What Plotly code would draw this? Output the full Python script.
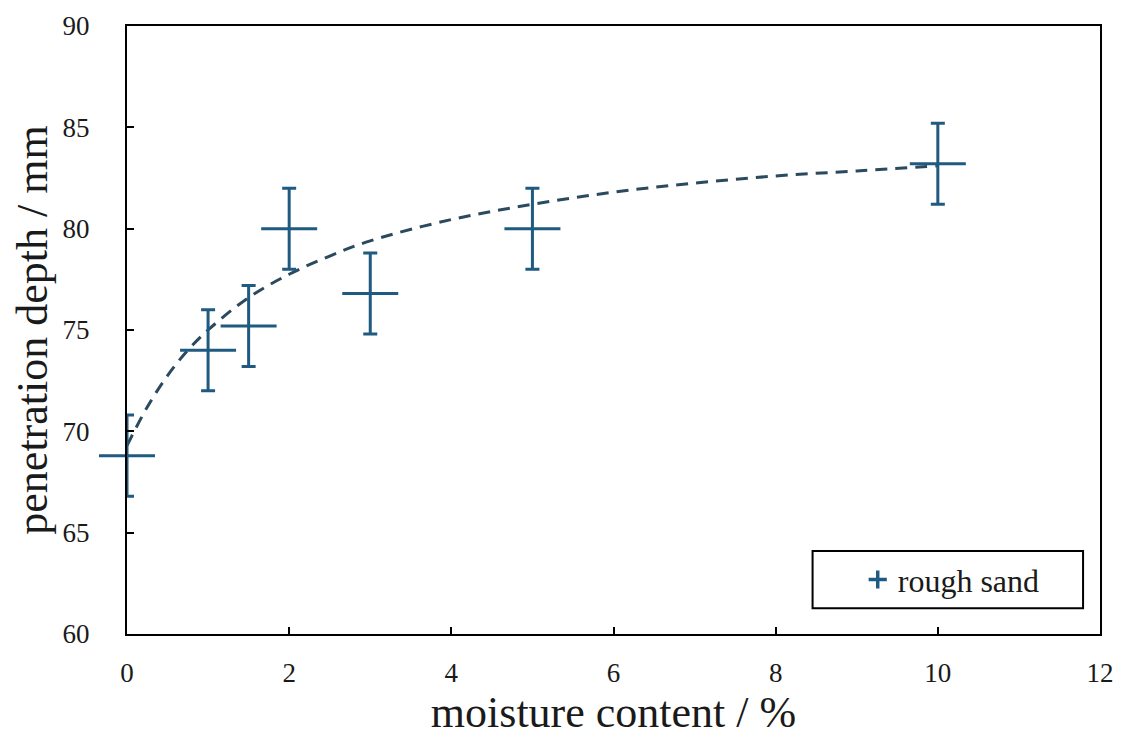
import plotly.graph_objects as go

# measured data
moisture = [0, 1, 1.5, 2, 3, 5, 10]
depth = [68.8, 74.0, 75.2, 80.0, 76.8, 80.0, 83.2]
depth_err = [2.0, 2.0, 2.0, 2.0, 2.0, 2.0, 2.0]

# dashed trend curve
trend_x = [0, 0.25, 0.5, 0.75, 1, 1.5, 2, 2.5, 3, 4, 5, 6, 7, 8, 9, 10]
trend_y = [69.3, 71.2, 72.75, 74.0, 75.0, 76.6, 77.75, 78.65, 79.4, 80.45, 81.2, 81.8, 82.25, 82.6, 82.85, 83.1]

x_ticks = [0, 2, 4, 6, 8, 10, 12]
y_ticks = [60, 65, 70, 75, 80, 85, 90]

BLUE = "#1f5a80"
FONT = "Liberation Serif"
TXT = "#1a1a1a"

fig = go.Figure()

fig.add_trace(go.Scatter(
    x=trend_x, y=trend_y, mode="lines", line_shape="spline",
    line=dict(color="#2b4a5e", width=3, dash="12px,8px"),
    showlegend=False, hoverinfo="skip", cliponaxis=False,
))

fig.add_trace(go.Scatter(
    x=moisture, y=depth, mode="markers", cliponaxis=False,
    marker=dict(symbol="line-ew", size=40, line=dict(color=BLUE, width=3), color=BLUE),
    error_y=dict(type="data", array=depth_err, visible=True, color=BLUE, thickness=3, width=7),
    showlegend=False, name="rough sand",
))

# legend entry
fig.add_trace(go.Scatter(
    x=[None], y=[None], mode="markers", name="rough sand",
    marker=dict(symbol="cross-thin", size=13, line=dict(color=BLUE, width=3.5), color=BLUE),
))

fig.add_shape(type="rect", xref="paper", yref="paper",
              x0=0.7046, x1=0.9826, y0=0.0422, y1=0.1364,
              line=dict(color="black", width=2), fillcolor="rgba(0,0,0,0)")

axis_common = dict(
    showline=True, linecolor="black", linewidth=2, mirror=True,
    ticks="inside", ticklen=7, tickwidth=2, tickcolor="black",
    showgrid=False, zeroline=False, automargin=False,
    tickfont=dict(family=FONT, size=27, color=TXT),
)

fig.update_layout(
    width=1133, height=741,
    margin=dict(l=119, r=41, t=18, b=115),
    plot_bgcolor="white", paper_bgcolor="white",
    font=dict(family=FONT, color=TXT),
    xaxis=dict(range=[0, 12], tickvals=x_ticks, ticktext=[str(v) for v in x_ticks],
               title=dict(text="moisture content / %", font=dict(family=FONT, size=44, color=TXT), standoff=7),
               ticklabelstandoff=14, **axis_common),
    yaxis=dict(range=[60, 90], tickvals=y_ticks, ticktext=[str(v) for v in y_ticks],
               title=dict(text="penetration depth / mm", font=dict(family=FONT, size=44, color=TXT), standoff=8),
               ticklabelstandoff=30, **axis_common),
    legend=dict(x=0.751, y=0.0893, xanchor="left", yanchor="middle",
                bgcolor="rgba(0,0,0,0)", borderwidth=0,
                font=dict(family=FONT, size=32, color=TXT)),
)

fig.write_html("out.html")
